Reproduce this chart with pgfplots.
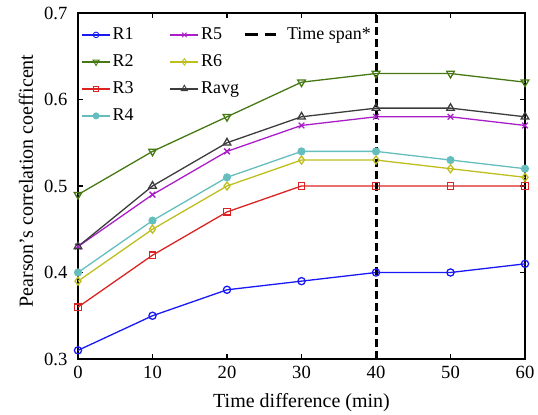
\documentclass[border=0pt]{standalone}
\usepackage{fontspec}
\setmainfont{Liberation Serif}
\usepackage{pgfplots}
\pgfplotsset{compat=1.18}
\definecolor{c1}{RGB}{25,25,245}
\definecolor{c2}{RGB}{70,120,20}
\definecolor{c3}{RGB}{220,35,35}
\definecolor{c4}{RGB}{100,190,190}
\definecolor{c5}{RGB}{170,30,200}
\definecolor{c6}{RGB}{190,190,30}
\definecolor{c7}{RGB}{60,60,60}
\begin{document}
\begin{tikzpicture}
\begin{axis}[
  scale only axis, width=223.5pt, height=173pt,
  xmin=0, xmax=60, ymin=0.3, ymax=0.7,
  xtick={0,10,...,60}, ytick={0.3,0.4,0.5,0.6,0.7},
  xticklabels={0,10,20,30,40,50,60},
  yticklabels={0.3,0.4,0.5,0.6,0.7},
  minor tick num=0,
  tick align=inside, major tick length=2.5pt,
  axis line style={line width=0.8pt},
  every tick/.style={black, line width=0.6pt},
  tick label style={font=\fontsize{9.3}{11}\selectfont},
  yticklabel style={xshift=-1.8pt},
  label style={font=\fontsize{10.2}{12}\selectfont},
  xlabel={Time difference (min)},
  ylabel={Pearson's correlation coefficent},
  every axis x label/.style={at={(rel axis cs:0.5,0)}, anchor=center, yshift=-22pt},
  every axis y label/.style={at={(rel axis cs:0,0.5)}, anchor=center, xshift=-26pt, yshift=2.5pt, rotate=90},
  every axis plot/.append style={line width=0.65pt},
  legend image code/.code={\draw[mark repeat=2,mark phase=2,#1] plot coordinates {(0pt,0pt)(7pt,0pt)(14pt,0pt)};},
  legend cell align=left,
  legend style={at={(0,1)}, anchor=north west, xshift=1.5pt, yshift=-4pt, draw=none, fill=none,
    legend columns=3, column sep=0pt, inner sep=0pt,
    font=\fontsize{9}{11}\selectfont,
    nodes={text height=6.5pt, text depth=2pt, inner ysep=2.5pt, inner xsep=1pt}},
]
\addplot[c1, mark=o, mark size=1.8pt, forget plot] coordinates {(0,0.31)(10,0.35)(20,0.38)(30,0.39)(40,0.40)(50,0.40)(60,0.41)};
\addplot[c2, mark=triangle, mark size=2.2pt, mark options={rotate=180}, forget plot] coordinates {(0,0.49)(10,0.54)(20,0.58)(30,0.62)(40,0.63)(50,0.63)(60,0.62)};
\addplot[c3, mark=square, mark size=1.6pt, forget plot] coordinates {(0,0.36)(10,0.42)(20,0.47)(30,0.50)(40,0.50)(50,0.50)(60,0.50)};
\addplot[c4, mark=*, mark size=1.7pt, forget plot] coordinates {(0,0.40)(10,0.46)(20,0.51)(30,0.54)(40,0.54)(50,0.53)(60,0.52)};
\addplot[c5, mark=x, mark size=2pt, forget plot] coordinates {(0,0.43)(10,0.49)(20,0.54)(30,0.57)(40,0.58)(50,0.58)(60,0.57)};
\addplot[c6, mark=diamond, mark size=2pt, forget plot] coordinates {(0,0.39)(10,0.45)(20,0.50)(30,0.53)(40,0.53)(50,0.52)(60,0.51)};
\addplot[c7, mark=triangle, mark size=2.2pt, forget plot] coordinates {(0,0.43)(10,0.50)(20,0.55)(30,0.58)(40,0.59)(50,0.59)(60,0.58)};
\addplot[black, line width=1.5pt, dash pattern=on 4pt off 2pt, forget plot] coordinates {(40,0.3)(40,0.7)};
\addlegendimage{c1, mark=o, mark size=1.4pt, mark options={line width=0.45pt}}
\addlegendentry{\makebox[27.5pt][l]{R1}}
\addlegendimage{c5, mark=x, mark size=1.6pt, mark options={line width=0.45pt}}
\addlegendentry{\makebox[20pt][l]{R5}}
\addlegendimage{legend image code/.code={\draw[black, line width=1.5pt, dash pattern=on 6.5pt off 3.5pt] (0pt,0pt) -- (15.5pt,0pt);}}
\addlegendentry{\hspace{4pt}Time span*}
\addlegendimage{c2, mark=triangle, mark size=1.8pt, mark options={rotate=180, line width=0.45pt}}
\addlegendentry{\makebox[27.5pt][l]{R2}}
\addlegendimage{c6, mark=diamond, mark size=1.6pt, mark options={line width=0.45pt}}
\addlegendentry{\makebox[20pt][l]{R6}}
\addlegendimage{empty legend}
\addlegendentry{}
\addlegendimage{c3, mark=square, mark size=1.3pt, mark options={line width=0.45pt}}
\addlegendentry{\makebox[27.5pt][l]{R3}}
\addlegendimage{c7, mark=triangle, mark size=1.8pt, mark options={line width=0.45pt}}
\addlegendentry{\makebox[20pt][l]{Ravg}}
\addlegendimage{empty legend}
\addlegendentry{}
\addlegendimage{c4, mark=*, mark size=1.4pt}
\addlegendentry{\makebox[27.5pt][l]{R4}}
\end{axis}
\pgfresetboundingbox
\path[use as bounding box] ([shift={(-39pt,-28pt)}]current axis.south west) rectangle ([shift={(6.5pt,6.5pt)}]current axis.north east);
\end{tikzpicture}
\end{document}
